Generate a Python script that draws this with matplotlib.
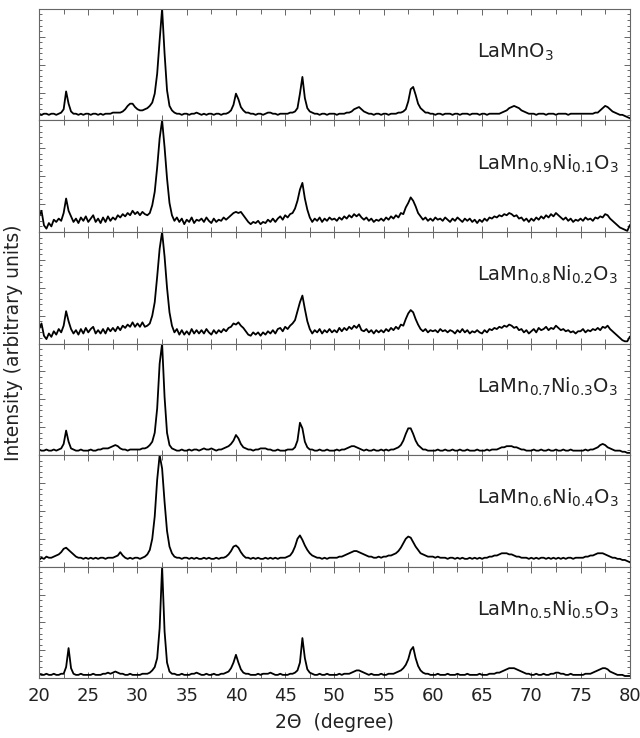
import numpy as np
import matplotlib.pyplot as plt
from matplotlib.ticker import MultipleLocator

plt.rcParams['font.family'] = 'DejaVu Sans'
plt.rcParams['mathtext.fontset'] = 'dejavusans'

# XRD intensities on a 0.25 deg grid from 20 to 80 deg (arbitrary units, 0-100)
lamno3 = [
    6, 5, 6, 6, 5, 6, 6, 5, 6, 7, 10, 26, 15, 8, 6, 6, 5, 6, 5, 6,
    6, 5, 6, 6, 5, 6, 5, 6, 6, 6, 7, 7, 7, 7, 8, 10, 13, 15, 15, 12,
    10, 9, 9, 10, 11, 13, 16, 24, 42, 72, 100, 60, 27, 13, 9, 7, 6, 6, 5, 6,
    6, 5, 6, 6, 7, 6, 5, 6, 5, 6, 6, 5, 6, 6, 5, 6, 6, 7, 9, 14,
    24, 19, 12, 9, 7, 7, 6, 6, 5, 6, 6, 5, 6, 7, 7, 6, 6, 5, 6, 6,
    6, 6, 7, 7, 8, 11, 24, 39, 20, 11, 8, 7, 6, 6, 5, 6, 6, 5, 6, 6,
    6, 5, 6, 6, 6, 7, 7, 8, 10, 11, 12, 10, 8, 7, 6, 6, 5, 6, 6, 5,
    6, 6, 5, 6, 6, 6, 7, 7, 8, 10, 17, 28, 30, 23, 15, 11, 9, 7, 7, 6,
    6, 5, 6, 6, 5, 6, 6, 6, 5, 6, 6, 5, 6, 6, 6, 5, 6, 6, 6, 5,
    6, 6, 5, 6, 6, 6, 6, 6, 7, 8, 9, 11, 12, 13, 12, 11, 9, 8, 7, 6,
    6, 6, 5, 6, 6, 6, 5, 6, 6, 6, 5, 6, 6, 6, 6, 5, 6, 6, 6, 6,
    6, 6, 6, 6, 6, 6, 7, 7, 9, 11, 13, 12, 10, 8, 7, 6, 5, 5, 4, 3,
    2]

ni01 = [
    14, 19, 6, 3, 8, 5, 11, 9, 12, 10, 17, 30, 19, 14, 9, 12, 8, 13, 10, 14,
    9, 12, 15, 9, 12, 8, 13, 9, 14, 10, 13, 11, 15, 13, 16, 14, 17, 15, 19, 16,
    18, 15, 18, 16, 15, 17, 24, 36, 58, 84, 100, 76, 48, 26, 15, 10, 13, 9, 12, 7,
    11, 9, 13, 8, 11, 10, 12, 9, 13, 10, 8, 12, 9, 11, 10, 13, 11, 13, 15, 17,
    18, 17, 18, 15, 12, 9, 7, 9, 8, 10, 7, 9, 8, 11, 9, 12, 9, 12, 14, 11,
    15, 13, 16, 17, 21, 28, 38, 44, 30, 20, 13, 9, 12, 10, 13, 9, 12, 10, 13, 11,
    12, 10, 13, 11, 14, 12, 15, 13, 16, 14, 16, 13, 11, 13, 10, 12, 9, 11, 10, 12,
    10, 13, 11, 14, 12, 15, 13, 17, 16, 22, 26, 31, 28, 23, 17, 14, 11, 13, 10, 12,
    10, 13, 11, 12, 10, 13, 11, 9, 12, 10, 13, 11, 9, 12, 10, 12, 9, 11, 8, 11,
    9, 12, 10, 13, 12, 14, 13, 15, 14, 16, 15, 17, 16, 14, 15, 12, 13, 10, 12, 9,
    12, 10, 13, 11, 14, 12, 15, 13, 16, 14, 17, 15, 13, 11, 13, 10, 12, 9, 11, 10,
    12, 10, 13, 11, 12, 10, 13, 12, 14, 13, 16, 15, 12, 10, 8, 6, 4, 3, 2, 1,
    6]

ni02 = [
    13, 18, 7, 4, 9, 6, 11, 8, 13, 10, 16, 29, 20, 13, 9, 12, 8, 13, 9, 14,
    10, 13, 15, 9, 12, 9, 13, 9, 14, 11, 14, 11, 15, 12, 16, 14, 17, 15, 19, 15,
    18, 15, 19, 15, 16, 18, 25, 37, 60, 85, 100, 78, 50, 28, 16, 10, 13, 8, 12, 8,
    11, 8, 13, 9, 12, 9, 12, 9, 13, 10, 8, 12, 9, 12, 10, 13, 11, 14, 15, 18,
    17, 19, 16, 14, 11, 8, 7, 10, 8, 10, 7, 10, 8, 11, 9, 12, 9, 13, 14, 11,
    15, 13, 16, 18, 21, 29, 37, 43, 31, 20, 13, 9, 12, 10, 13, 9, 12, 10, 13, 10,
    12, 10, 14, 11, 14, 12, 15, 13, 16, 14, 17, 12, 11, 13, 10, 12, 9, 12, 10, 12,
    10, 13, 11, 14, 12, 15, 13, 17, 16, 22, 27, 30, 28, 22, 17, 13, 11, 13, 10, 12,
    11, 12, 10, 13, 11, 12, 10, 12, 11, 9, 12, 10, 13, 10, 12, 9, 11, 10, 12, 10,
    9, 12, 10, 13, 12, 14, 13, 15, 14, 16, 15, 17, 16, 14, 15, 12, 13, 10, 12, 9,
    11, 13, 10, 14, 12, 13, 15, 12, 14, 13, 16, 14, 12, 13, 11, 12, 10, 11, 9, 11,
    11, 13, 10, 12, 11, 13, 12, 14, 12, 15, 14, 16, 13, 11, 9, 7, 5, 3, 2, 2,
    6]

ni03 = [
    5, 4, 4, 5, 4, 4, 5, 4, 5, 6, 10, 22, 12, 6, 5, 4, 4, 5, 4, 4,
    4, 5, 4, 4, 5, 5, 6, 6, 6, 7, 8, 9, 8, 6, 5, 5, 4, 5, 5, 5,
    5, 5, 6, 6, 7, 9, 12, 20, 42, 82, 100, 52, 20, 9, 6, 5, 4, 4, 5, 4,
    4, 5, 4, 5, 5, 4, 5, 6, 5, 5, 6, 5, 4, 5, 5, 6, 7, 8, 10, 13,
    18, 15, 10, 7, 6, 5, 5, 4, 5, 5, 6, 6, 6, 5, 5, 4, 4, 5, 4, 4,
    4, 5, 5, 5, 7, 13, 29, 24, 12, 7, 5, 5, 4, 4, 5, 4, 4, 5, 4, 4,
    4, 5, 4, 5, 5, 6, 7, 8, 8, 7, 6, 5, 4, 5, 4, 4, 5, 4, 4, 5,
    4, 5, 4, 5, 5, 6, 7, 9, 13, 19, 24, 24, 19, 13, 9, 7, 5, 5, 4, 4,
    4, 4, 5, 4, 4, 5, 4, 4, 5, 4, 4, 5, 4, 4, 5, 4, 4, 4, 5, 4,
    4, 4, 5, 4, 5, 5, 5, 6, 7, 7, 8, 8, 8, 7, 7, 6, 5, 5, 4, 4,
    4, 5, 4, 4, 5, 4, 4, 5, 4, 4, 5, 4, 4, 5, 4, 4, 5, 4, 4, 4,
    4, 4, 5, 4, 5, 5, 6, 7, 9, 10, 9, 7, 6, 5, 4, 4, 4, 3, 3, 2,
    2]

ni04 = [
    6, 8, 7, 9, 8, 8, 9, 10, 11, 13, 16, 17, 15, 13, 11, 9, 8, 8, 7, 8,
    7, 8, 7, 8, 7, 8, 8, 7, 8, 8, 8, 9, 10, 13, 10, 8, 7, 8, 7, 8,
    8, 7, 8, 9, 11, 15, 25, 45, 78, 100, 88, 58, 32, 18, 12, 9, 8, 8, 7, 8,
    8, 7, 8, 7, 8, 7, 7, 8, 7, 8, 7, 7, 8, 7, 8, 8, 9, 11, 14, 18,
    19, 17, 13, 10, 8, 8, 7, 8, 7, 8, 7, 7, 8, 7, 8, 7, 8, 7, 8, 8,
    8, 9, 10, 13, 18, 25, 28, 24, 19, 15, 12, 10, 9, 8, 8, 7, 8, 7, 8, 8,
    8, 8, 9, 9, 10, 11, 12, 13, 14, 14, 13, 12, 11, 10, 9, 9, 8, 8, 9, 8,
    9, 9, 10, 10, 11, 12, 14, 17, 21, 25, 27, 26, 22, 18, 15, 12, 11, 10, 9, 9,
    9, 8, 9, 8, 8, 8, 7, 8, 8, 7, 8, 7, 8, 7, 7, 8, 7, 8, 7, 8,
    7, 8, 8, 9, 9, 10, 10, 11, 12, 12, 12, 11, 11, 10, 9, 9, 8, 8, 8, 7,
    8, 7, 8, 7, 8, 8, 7, 8, 7, 8, 7, 8, 7, 8, 7, 8, 8, 7, 8, 8,
    8, 8, 9, 9, 10, 10, 11, 12, 12, 12, 11, 10, 9, 8, 8, 7, 7, 6, 6, 5,
    4]

ni05 = [
    4, 3, 3, 4, 3, 3, 4, 3, 3, 4, 4, 10, 27, 9, 4, 3, 3, 4, 3, 3,
    3, 3, 4, 3, 3, 3, 4, 4, 5, 4, 5, 6, 5, 4, 4, 3, 3, 4, 3, 3,
    3, 3, 4, 4, 4, 5, 7, 10, 18, 45, 100, 42, 14, 6, 4, 4, 3, 3, 4, 3,
    3, 3, 4, 4, 5, 4, 3, 3, 4, 3, 3, 4, 3, 3, 4, 4, 5, 6, 9, 14,
    21, 14, 8, 5, 4, 4, 3, 3, 3, 4, 3, 4, 4, 4, 5, 4, 3, 3, 4, 3,
    3, 3, 4, 4, 5, 7, 14, 36, 18, 8, 5, 4, 3, 3, 4, 3, 3, 4, 3, 3,
    3, 3, 4, 3, 4, 4, 4, 5, 6, 7, 7, 6, 5, 4, 3, 4, 3, 3, 3, 4,
    3, 3, 4, 4, 4, 5, 6, 7, 9, 12, 17, 25, 28, 18, 11, 7, 5, 4, 4, 3,
    3, 3, 4, 3, 3, 3, 4, 3, 3, 3, 4, 3, 3, 3, 4, 3, 3, 3, 3, 4,
    3, 3, 3, 4, 4, 4, 5, 5, 6, 7, 8, 9, 9, 9, 8, 7, 6, 5, 4, 4,
    3, 3, 4, 3, 3, 4, 3, 3, 4, 4, 5, 5, 4, 4, 3, 3, 4, 3, 3, 3,
    3, 3, 4, 4, 4, 5, 6, 7, 8, 9, 9, 8, 6, 5, 4, 3, 3, 3, 2, 2,
    2]

samples = [lamno3, ni01, ni02, ni03, ni04, ni05]
labels = [
    'LaMnO$_3$',
    'LaMn$_{0.9}$Ni$_{0.1}$O$_3$',
    'LaMn$_{0.8}$Ni$_{0.2}$O$_3$',
    'LaMn$_{0.7}$Ni$_{0.3}$O$_3$',
    'LaMn$_{0.6}$Ni$_{0.4}$O$_3$',
    'LaMn$_{0.5}$Ni$_{0.5}$O$_3$',
]
x_ticks = [20, 25, 30, 35, 40, 45, 50, 55, 60, 65, 70, 75, 80]

frame = '#666666'
ink = '#222222'

fig, axes = plt.subplots(len(samples), 1, figsize=(6.4, 7.38), dpi=100, sharex=True)
fig.subplots_adjust(left=0.061, right=0.984, top=0.988, bottom=0.081, hspace=0)

for ax, counts, label in zip(axes, samples, labels):
    two_theta = np.linspace(20, 80, len(counts))
    ax.plot(two_theta, counts, color='black', lw=1.3)
    ax.set_xlim(20, 80)
    ax.set_ylim(0, 100)
    ax.set_xticks(x_ticks)
    ax.xaxis.set_minor_locator(MultipleLocator(2.5))
    ax.yaxis.set_major_locator(MultipleLocator(25))
    ax.yaxis.set_minor_locator(MultipleLocator(5))
    ax.tick_params(which='both', direction='in', top=True, right=True,
                   color=frame, width=0.7, labelleft=False, labelcolor=ink)
    ax.tick_params(which='major', length=4)
    ax.tick_params(which='minor', length=2.5)
    ax.tick_params(axis='x', which='minor', length=3.5)
    for sp in ax.spines.values():
        sp.set_color(frame)
        sp.set_linewidth(0.8)
    ax.text(64.5, 56, label, fontsize=14, color=ink, va='baseline', ha='left')

axes[-1].tick_params(axis='x', labelsize=13, pad=6)

fig.text(0.523, 1 - 722 / 738, '2Θ  (degree)', fontsize=13.5, color=ink,
         ha='center', va='center')
fig.text(14 / 640, 1 - 343 / 738, 'Intensity (arbitrary units)', fontsize=13.5,
         color=ink, rotation=90, ha='center', va='center')

fig.savefig('out.png', dpi=100)
